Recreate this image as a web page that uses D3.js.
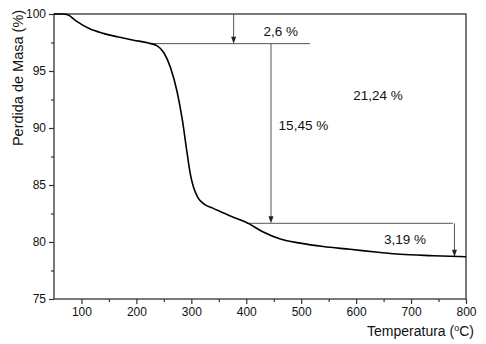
<!DOCTYPE html>
<html><head><meta charset="utf-8">
<script src="https://cdn.jsdelivr.net/npm/d3@7"></script>
<style>body{margin:0;background:#fff}svg{display:block}text{font-family:"Liberation Sans",Arial,sans-serif;fill:#111}</style>
</head><body><svg id="c" width="486" height="344"></svg>
<script>
const temperature = [50, 65, 75, 90, 115, 140, 165, 195, 222, 238, 250, 262, 274, 284, 292, 298, 304, 312, 324, 340, 370, 401, 430, 462, 498, 540, 589, 640, 680, 740, 800];
const massPct = [100, 100, 99.93, 99.4, 98.7, 98.3, 98.0, 97.7, 97.45, 97.2, 96.6, 95.3, 93.2, 90.6, 87.9, 86.0, 84.8, 83.9, 83.3, 82.95, 82.3, 81.7, 80.9, 80.26, 79.9, 79.6, 79.36, 79.1, 78.92, 78.8, 78.71];
const xTicks = [100, 200, 300, 400, 500, 600, 700, 800];
const yTicks = [75, 80, 85, 90, 95, 100];
// annotation steps: horizontal [from temp, to temp, mass], arrows [temp, from mass, to mass]
const hLines = [[222, 516, 97.4], [400, 776, 81.64]];
const arrows = [[377, 100, 97.4], [445, 97.4, 81.64], [779, 81.64, 78.71]];
const labelText = ["2,6 %", "21,24 %", "15,45 %", "3,19 %"];
const labelTemp = [463, 640, 504, 689];
const labelMass = [98.07, 92.46, 89.82, 79.8];

const svg = d3.select("#c");
const L = 54, R = 466, T = 14, B = 299;
const x = d3.scaleLinear().domain([50, 800]).range([L, R]);
const y = d3.scaleLinear().domain([75, 100]).range([B, T]);

// frame
svg.append("rect").attr("x", L).attr("y", T).attr("width", R - L).attr("height", B - T)
  .attr("fill", "none").attr("stroke", "#333").attr("stroke-width", 1.3);

// axes
const xMinor = d3.range(150, 800, 100);
const gx = svg.append("g").attr("transform", `translate(0,${B})`);
gx.call(d3.axisBottom(x).tickValues(xTicks).tickSize(5).tickSizeOuter(0).tickPadding(3));
gx.append("g").call(d3.axisBottom(x).tickValues(xMinor).tickSize(3).tickFormat(""));
const gy = svg.append("g").attr("transform", `translate(${L},0)`);
gy.call(d3.axisLeft(y).tickValues(yTicks).tickSize(5).tickSizeOuter(0).tickPadding(3));
gy.append("g").call(d3.axisLeft(y).tickValues(d3.range(77.5, 100, 5)).tickSize(3).tickFormat(""));
svg.selectAll(".domain").remove();
svg.selectAll(".tick line").attr("stroke", "#333").attr("stroke-width", 1.2);
svg.selectAll(".tick text").style("font-size", "12px").attr("fill", "#111");

// annotation lines
const ann = svg.append("g").attr("stroke", "#555").attr("stroke-width", 1);
hLines.forEach(h => ann.append("line").attr("x1", x(h[0])).attr("x2", x(h[1])).attr("y1", y(h[2])).attr("y2", y(h[2])));
arrows.forEach(a => {
  const xx = x(a[0]), y1 = y(a[1]), y2 = y(a[2]);
  ann.append("line").attr("x1", xx).attr("x2", xx).attr("y1", y1).attr("y2", y2 - 6);
  svg.append("path").attr("d", `M${xx - 2.5},${y2 - 7}L${xx + 2.5},${y2 - 7}L${xx},${y2}Z`).attr("fill", "#222");
});

// curve
svg.append("path").datum(temperature.map((t, i) => [t, massPct[i]]))
  .attr("fill", "none").attr("stroke", "#000").attr("stroke-width", 1.6)
  .attr("d", d3.line().x(d => x(d[0])).y(d => y(d[1])).curve(d3.curveMonotoneX));

// labels
labelText.forEach((s, i) => svg.append("text").attr("x", x(labelTemp[i])).attr("y", y(labelMass[i]))
  .attr("text-anchor", "middle").style("font-size", "13.5px").text(s));

// axis titles
svg.append("text").attr("transform", "translate(23,78) rotate(-90)").attr("text-anchor", "middle")
  .style("font-size", "14.5px").text("Perdida de Masa (%)");
const xt = svg.append("text").attr("x", 474).attr("y", 336).attr("text-anchor", "end").style("font-size", "14px");
xt.append("tspan").text("Temperatura (");
xt.append("tspan").attr("dy", -5).style("font-size", "9px").text("o");
xt.append("tspan").attr("dy", 5).text("C)");
</script></body></html>
